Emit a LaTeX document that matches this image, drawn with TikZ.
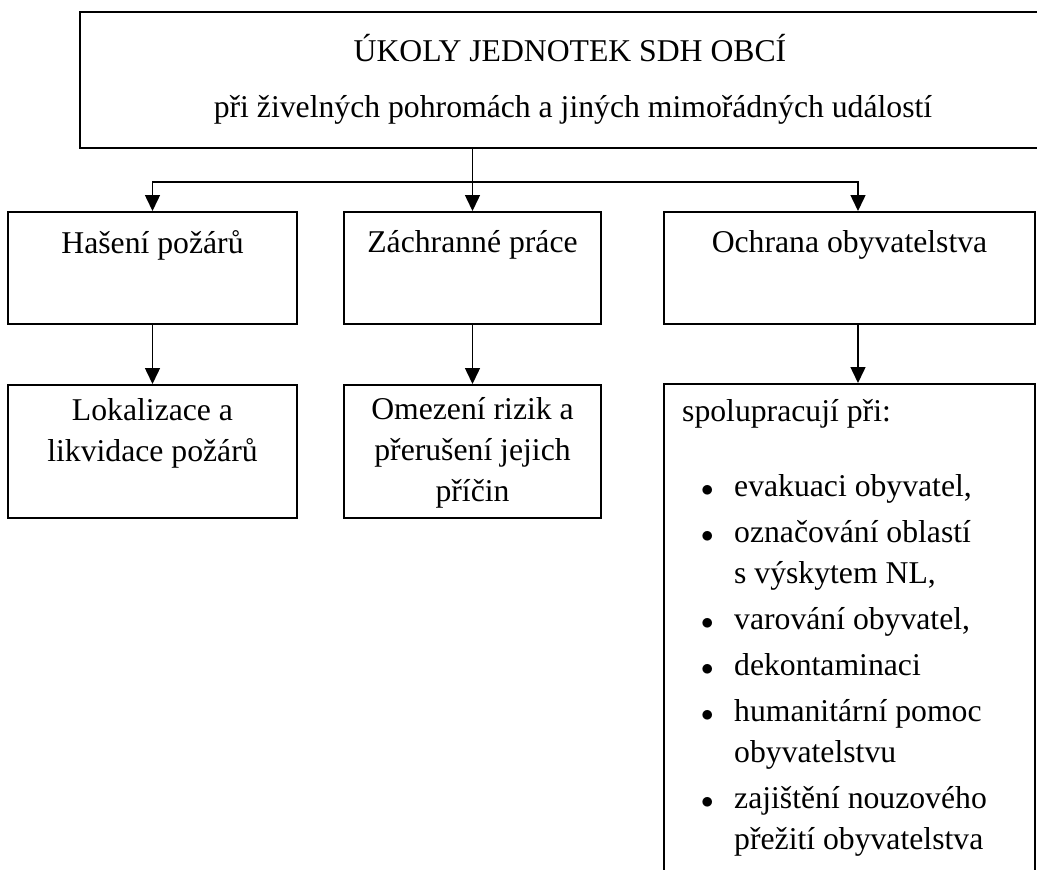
\documentclass[tikz,border=0pt]{standalone}
\usepackage{fontspec}
\setmainfont{Liberation Serif}
\usetikzlibrary{arrows.meta,positioning}

\newcommand{\bul}{\hspace*{19pt}$\bullet$}

\begin{document}
\begin{tikzpicture}[x=1pt, y=-1pt,
             every node/.style = {inner sep=0pt, font=\fontsize{31.7}{41}\selectfont},
             box/.style={draw, line width=2pt},
             arrow/.style={-{Triangle[width=15pt,length=16pt]}, line width=1.5pt}]
\useasboundingbox (0,0) rectangle (1037,870);

\node (top) at (572,80) [box, minimum width=984pt, minimum height=136pt] {};
\node (title) at (570,48) {ÚKOLY JEDNOTEK SDH OBCÍ};
\node (subtitle) at (573,110) {při živelných pohromách a jiných mimořádných událostí};

\node (hasen) at (152.5,268) [box, minimum width=289pt, minimum height=112pt] {};
\node (zachr) at (472.5,268) [box, minimum width=257pt, minimum height=112pt] {};
\node (ochrana) at (849.5,268) [box, minimum width=371pt, minimum height=112pt] {};
\node (hasenT) at (152.5,245) {Hašení požárů};
\node (zachrT) at (472.5,245) {Záchranné práce};
\node (ochranaT) at (849.5,245) {Ochrana obyvatelstva};

\node (lokal) at (152.5,451.5) [box, minimum width=289pt, minimum height=133pt] {};
\node (omez) at (472.5,451.5) [box, minimum width=257pt, minimum height=133pt] {};
\node (spolu) at (849.5,640) [box, minimum width=371pt, minimum height=512pt] {};
\node (lokalT) at (152.5,433) [align=center] {Lokalizace a\\likvidace požárů};
\node (omezT) at (472.5,453) [align=center] {Omezení rizik a\\přerušení jejich\\příčin};

\node (spoluT) at (682,393) [anchor=north west] {%
  \begin{tabular}{@{}p{52pt}@{}l@{}}
  \multicolumn{2}{@{}l@{}}{spolupracují při:}\\[34pt]
  \bul & evakuaci obyvatel,\\[5pt]
  \bul & označování oblastí\\
       & s výskytem NL,\\[5pt]
  \bul & varování obyvatel,\\[5pt]
  \bul & dekontaminaci\\[5pt]
  \bul & humanitární pomoc\\
       & obyvatelstvu\\[5pt]
  \bul & zajištění nouzového\\
       & přežití obyvatelstva
  \end{tabular}};

% connectors
\path (zachr.north) ++(0,-29) coordinate (fork);
\draw [arrow] (top.south -| zachr.north) -- (zachr.north);
\draw [arrow] (fork) -| (hasen.north);
\draw [arrow] (fork) -| ([xshift=8.5pt]ochrana.north);

\draw [arrow] (hasen.south) -- (lokal.north);
\draw [arrow] (zachr.south) -- (omez.north);
\draw [arrow] ([xshift=8.5pt]ochrana.south) -- ([xshift=8.5pt]spolu.north);

\end{tikzpicture}
\end{document}
